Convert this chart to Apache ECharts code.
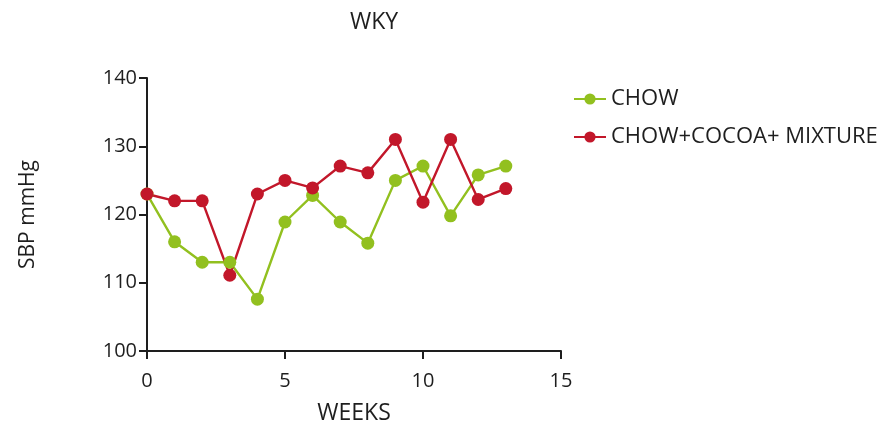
<!DOCTYPE html>
<html>
<head>
<meta charset="utf-8">
<script src="https://cdn.jsdelivr.net/npm/echarts@6/dist/echarts.min.js"></script>
<style>
  html, body { margin: 0; padding: 0; background: #fff; }
  #chart { width: 896px; height: 428px; }
</style>
</head>
<body>
<div id="chart"></div>
<script>
// Weekly systolic blood pressure, WKY rats
const weeks = [0, 1, 2, 3, 4, 5, 6, 7, 8, 9, 10, 11, 12, 13];
const chow = [123, 116, 113, 113, 107.6, 118.9, 122.8, 118.9, 115.8, 125, 127.1, 119.8, 125.8, 127.1];
const chowCocoa = [123, 122, 122, 111.1, 123, 125, 123.9, 127.1, 126.1, 131, 121.8, 131, 122.2, 123.8];
const seriesNames = ['CHOW', 'CHOW+COCOA+ MIXTURE'];
const colors = ['#92c01f', '#c2172a'];

const font = '"Open Sans", "Noto Sans", sans-serif';
const ink = '#1e1e1e';
const chart = echarts.init(document.getElementById('chart'));

const pairs = (ys) => weeks.map((w, i) => [w, ys[i]]);

chart.setOption({
  animation: false,
  textStyle: { fontFamily: font },
  title: {
    text: 'WKY',
    left: 369,
    textAlign: 'center',
    top: 6,
    textStyle: { fontSize: 23, fontWeight: 'normal', color: ink, fontFamily: font }
  },
  legend: {
    orient: 'vertical',
    left: 568,
    top: 83,
    itemGap: 16,
    itemWidth: 32,
    itemHeight: 14,
    textStyle: { fontSize: 22, color: ink, fontFamily: font },
    data: seriesNames
  },
  grid: { left: 147, right: 335, top: 78, bottom: 77, outerBoundsMode: 'none', containLabel: false },
  xAxis: {
    type: 'value',
    min: 0,
    max: 15,
    interval: 5,
    name: 'WEEKS',
    nameLocation: 'middle',
    nameGap: 51,
    nameTextStyle: { fontSize: 23, color: ink },
    axisLine: { onZero: false, lineStyle: { color: ink, width: 2 } },
    axisTick: { show: true, length: 8, lineStyle: { color: ink, width: 2 } },
    axisLabel: { fontSize: 20, color: ink, margin: 20 },
    splitLine: { show: false }
  },
  yAxis: {
    type: 'value',
    min: 100,
    max: 140,
    interval: 10,
    name: 'SBP mmHg',
    nameLocation: 'middle',
    nameGap: 108,
    nameTextStyle: { fontSize: 21, color: ink },
    axisLine: { show: true, lineStyle: { color: ink, width: 2 } },
    axisTick: { show: true, length: 8, lineStyle: { color: ink, width: 2 } },
    axisLabel: { fontSize: 20, color: ink, margin: 10 },
    splitLine: { show: false }
  },
  series: [
    {
      name: seriesNames[0],
      type: 'line',
      data: pairs(chow),
      symbol: 'circle',
      symbolSize: 13,
      color: colors[0],
      lineStyle: { width: 2.4, color: colors[0] },
      itemStyle: { color: colors[0] }
    },
    {
      name: seriesNames[1],
      type: 'line',
      data: pairs(chowCocoa),
      symbol: 'circle',
      symbolSize: 13,
      color: colors[1],
      lineStyle: { width: 2.4, color: colors[1] },
      itemStyle: { color: colors[1] }
    }
  ]
});
</script>
</body>
</html>
